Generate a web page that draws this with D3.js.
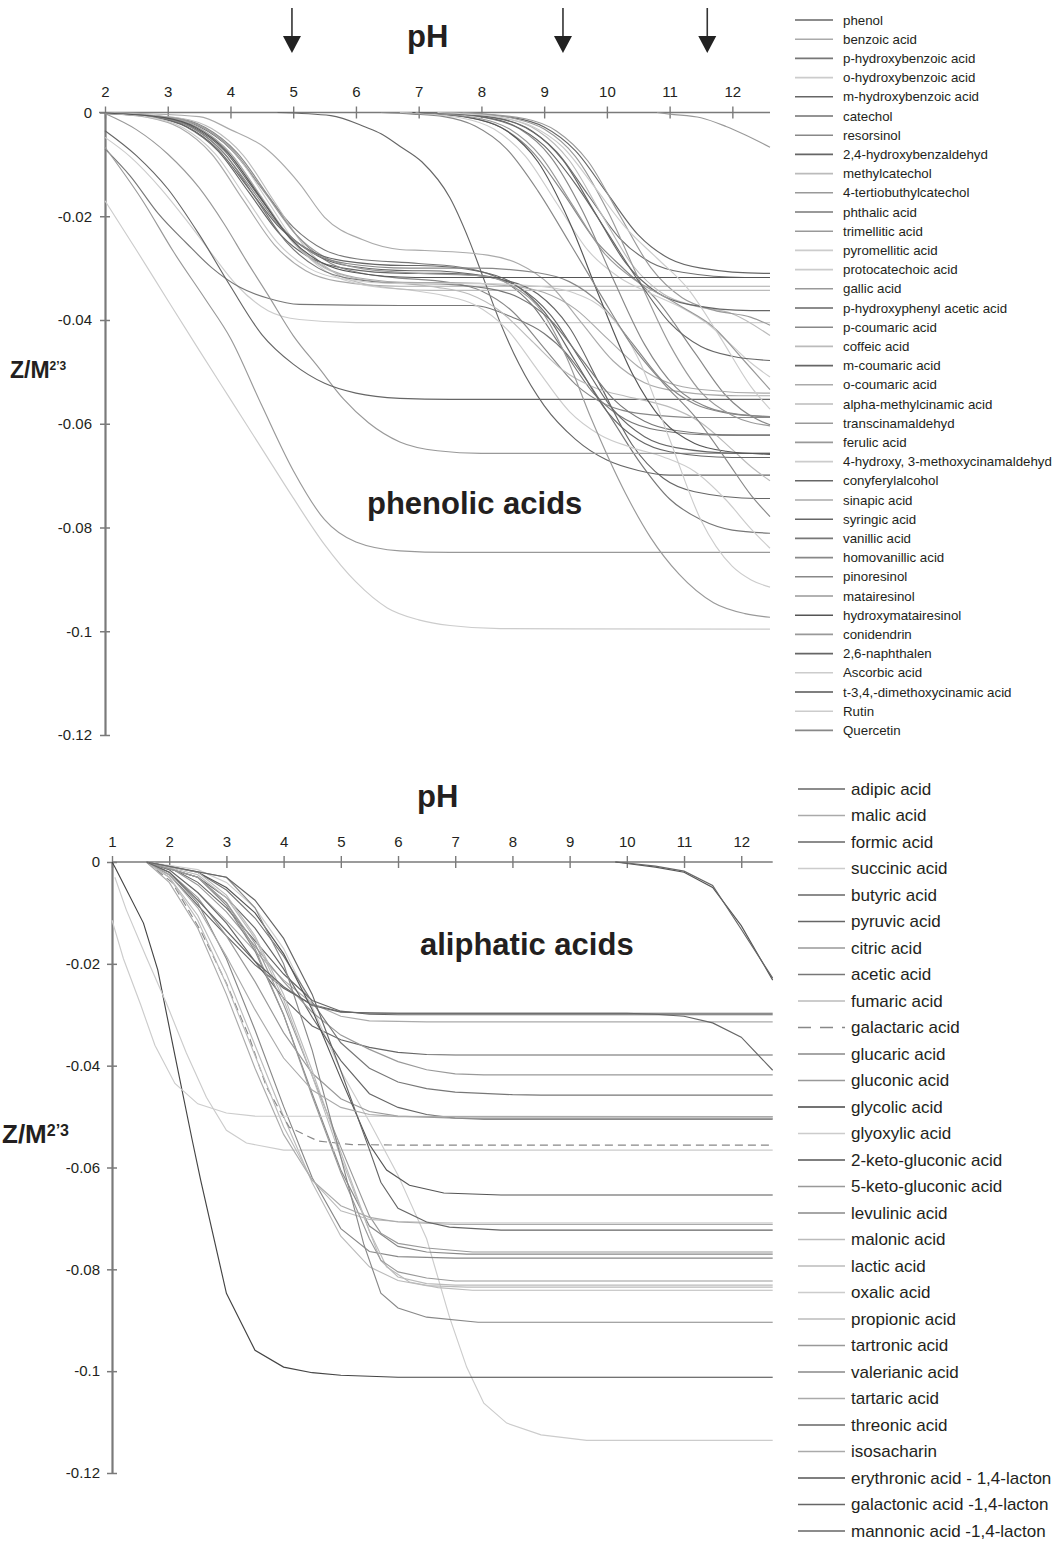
<!DOCTYPE html>
<html>
<head>
<meta charset="utf-8">
<script src="https://cdn.jsdelivr.net/npm/d3@7"></script>
<style>
  body { margin: 0; background: #fff; }
  svg text { font-family: "Liberation Sans", Arial, Helvetica, sans-serif; }
</style>
</head>
<body>
<svg id="chart" width="1062" height="1548"></svg>
<script>
// ---- data ---------------------------------------------------------------

const zTicks = [0, -0.02, -0.04, -0.06, -0.08, -0.1, -0.12];
const phTicksTop = [2, 3, 4, 5, 6, 7, 8, 9, 10, 11, 12];
const phTicksBottom = [1, 2, 3, 4, 5, 6, 7, 8, 9, 10, 11, 12];
const arrowPH = [4.98, 9.3, 11.6];

const phenolicNames = [
  "phenol", "benzoic acid", "p-hydroxybenzoic acid", "o-hydroxybenzoic acid",
  "m-hydroxybenzoic acid", "catechol", "resorsinol", "2,4-hydroxybenzaldehyd",
  "methylcatechol", "4-tertiobuthylcatechol", "phthalic acid", "trimellitic acid",
  "pyromellitic acid", "protocatechoic acid", "gallic acid", "p-hydroxyphenyl acetic acid",
  "p-coumaric acid", "coffeic acid", "m-coumaric acid", "o-coumaric acid",
  "alpha-methylcinamic acid", "transcinamaldehyd", "ferulic acid",
  "4-hydroxy, 3-methoxycinamaldehyd", "conyferylalcohol", "sinapic acid",
  "syringic acid", "vanillic acid", "homovanillic acid", "pinoresinol",
  "matairesinol", "hydroxymatairesinol", "conidendrin", "2,6-naphthalen",
  "Ascorbic acid", "t-3,4,-dimethoxycinamic acid", "Rutin", "Quercetin"
];
const phenolicGrays = [
  "#666", "#aaa", "#777", "#ccc", "#666", "#707070", "#888", "#666",
  "#bbb", "#999", "#777", "#999", "#ccc", "#ccc", "#999", "#666",
  "#888", "#bbb", "#666", "#aaa", "#bbb", "#999", "#999", "#ccc",
  "#666", "#aaa", "#666", "#777", "#888", "#888", "#999", "#555",
  "#999", "#666", "#ccc", "#555", "#ccc", "#888"
];
// [pH, Z/M^2/3]
const phenolicCurves = [
  [[7.5,0],[8.5,-.001],[9,-.0028],[9.5,-.0074],[10,-.0155],[10.5,-.0236],[11,-.0282],[11.5,-.03],[12.5,-.031],[12.6,-.031]],
  [[2,-.0002],[2.7,-.001],[3.2,-.003],[3.7,-.008],[4.2,-.0168],[4.7,-.0255],[5.2,-.0305],[5.7,-.0325],[6.7,-.0335],[12.6,-.0335]],
  [[2,-.0002],[3,-.0009],[3.5,-.0027],[4,-.007],[4.5,-.0146],[5,-.0221],[5.5,-.0265],[6,-.0282],[7,-.0291],[7.8,-.0301],[8.3,-.0321],[8.8,-.037],[9.3,-.0457],[9.8,-.0543],[10.3,-.0592],[10.8,-.0612],[11.8,-.0622],[12.6,-.0622]],
  [[2,-.0048],[2.4,-.0085],[2.9,-.0148],[3.3,-.0208],[3.7,-.0272],[4.1,-.0333],[4.6,-.0382],[5.1,-.0399],[6,-.0405],[12.6,-.0405]],
  [[2,-.0002],[2.8,-.001],[3.3,-.0028],[3.8,-.0074],[4.3,-.0155],[4.8,-.0236],[5.3,-.0282],[5.8,-.03],[6.8,-.031],[7.4,-.031],[8.4,-.0324],[8.9,-.035],[9.4,-.0414],[9.9,-.0527],[10.4,-.064],[10.9,-.0705],[11.4,-.0731],[12.4,-.0744],[12.6,-.0744]],
  [[7.2,0],[8.2,-.001],[8.7,-.0029],[9.2,-.0076],[9.7,-.0159],[10.2,-.0242],[10.7,-.0289],[11.2,-.0308],[12.2,-.0318],[12.6,-.0318]],
  [[6.8,0],[7.8,-.001],[8.3,-.0028],[8.8,-.0074],[9.3,-.0155],[9.8,-.0244],[10.3,-.0305],[10.8,-.0362],[11.4,-.0463],[11.9,-.0546],[12.4,-.0592],[12.6,-.0602]],
  [[4.75,0],[5.6,-.0006],[6.15,-.0028],[6.4,-.0041],[6.7,-.0065],[7.05,-.0095],[7.5,-.0165],[7.8,-.0245],[8.05,-.0325],[8.3,-.0405],[8.6,-.0485],[9,-.0565],[9.5,-.063],[10,-.067],[10.5,-.069],[11,-.0699],[12.6,-.0699]],
  [[7.4,0],[8.4,-.0012],[8.9,-.0035],[9.4,-.0092],[9.9,-.0193],[10.4,-.0293],[10.9,-.035],[11.4,-.0373],[12,-.0388],[12.6,-.043]],
  [[7.7,0],[8.7,-.0012],[9.2,-.0036],[9.7,-.0094],[10.2,-.0197],[10.7,-.0299],[11.2,-.0357],[11.7,-.0381],[12.3,-.0395],[12.6,-.041]],
  [[2,-.007],[2.4,-.0122],[2.85,-.0195],[3.3,-.0252],[3.7,-.0299],[4.15,-.0337],[4.6,-.0358],[5.1,-.037],[6.7,-.0372],[7.85,-.0372],[8.5,-.0395],[9,-.0426],[9.35,-.0464],[9.7,-.052],[10.1,-.0595],[10.5,-.067],[11,-.0745],[11.5,-.0785],[12,-.0805],[12.6,-.0811]],
  [[2,-.0067],[2.6,-.017],[3.1,-.027],[3.6,-.036],[4,-.0435],[4.5,-.0565],[5,-.069],[5.5,-.0785],[6,-.0828],[6.7,-.0845],[7.5,-.0848],[12.6,-.0848]],
  [[2,-.017],[2.5,-.0265],[3,-.0362],[3.5,-.0458],[4,-.0553],[4.5,-.0648],[5,-.0743],[5.5,-.0833],[6,-.0905],[6.5,-.0955],[7,-.0978],[7.5,-.0989],[8.3,-.0995],[12.6,-.0996]],
  [[2,-.0001],[3.1,-.0011],[3.6,-.0031],[4.1,-.0082],[4.6,-.0172],[5.1,-.0261],[5.6,-.0312],[6.1,-.0332],[6.9,-.0343],[7.4,-.0353],[7.9,-.0371],[8.4,-.0417],[8.9,-.0497],[9.4,-.0576],[9.9,-.0622],[10.4,-.0646],[10.9,-.0664],[11.4,-.0692],[11.9,-.0747],[12.3,-.0803],[12.6,-.084]],
  [[2,-.0002],[2.5,-.0033],[3,-.008],[3.5,-.0145],[3.9,-.0215],[4.25,-.0285],[4.6,-.0352],[5,-.043],[5.4,-.0491],[5.8,-.0552],[6.2,-.0598],[6.7,-.0635],[7.3,-.0652],[8,-.0657],[12.6,-.0657]],
  [[2,-.0035],[2.5,-.0083],[3,-.0147],[3.5,-.0235],[4,-.0335],[4.5,-.0428],[5,-.0485],[5.5,-.0522],[6,-.0541],[6.7,-.0551],[7.5,-.0553],[12.6,-.0553]],
  [[2,-.0001],[3.1,-.001],[3.6,-.0029],[4.1,-.0077],[4.6,-.016],[5.1,-.0243],[5.6,-.0291],[6.1,-.031],[6.5,-.0317],[7.5,-.0328],[8,-.0344],[8.5,-.0384],[9,-.0454],[9.5,-.0524],[10,-.0564],[10.5,-.058],[11.5,-.0588],[12.6,-.0588]],
  [[2,-.0001],[3,-.001],[3.5,-.003],[4,-.0079],[4.5,-.0165],[5,-.0251],[5.5,-.03],[6,-.032],[6.8,-.033],[7.3,-.0337],[7.8,-.035],[8.3,-.0383],[8.8,-.044],[9.3,-.0497],[9.8,-.053],[10.3,-.0547],[10.6,-.0555],[11,-.0568],[11.5,-.0598],[12,-.065],[12.3,-.0683],[12.6,-.071]],
  [[2,-.0001],[2.9,-.001],[3.4,-.0028],[3.9,-.0073],[4.4,-.0153],[4.9,-.0232],[5.4,-.0277],[5.9,-.0296],[6.9,-.0305],[7.1,-.0305],[8.1,-.0316],[8.6,-.0337],[9.1,-.039],[9.6,-.0481],[10.1,-.0573],[10.6,-.0625],[11.1,-.0646],[12.1,-.0657],[12.6,-.0657]],
  [[2,-.0001],[3,-.001],[3.5,-.003],[4,-.0079],[4.5,-.0164],[5,-.0249],[5.5,-.0298],[6,-.0318],[7,-.0328],[7.5,-.0328],[8.5,-.0335],[9,-.0347],[9.5,-.0379],[10,-.0435],[10.5,-.049],[11,-.0522],[11.5,-.0534],[12.5,-.0541],[12.6,-.0541]],
  [[2,-.0001],[3.2,-.0011],[3.7,-.0031],[4.2,-.0082],[4.7,-.0172],[5.2,-.0261],[5.7,-.0312],[6.2,-.0332],[7.2,-.0343],[12.6,-.0343]],
  [[10.8,0],[11,-.0003],[11.5,-.001],[11.9,-.0027],[12.2,-.0043],[12.6,-.0067]],
  [[2,-.0001],[3.05,-.001],[3.55,-.0028],[4.05,-.0074],[4.55,-.0155],[5.05,-.0236],[5.55,-.0282],[6.05,-.03],[7,-.031],[8,-.0315],[8.5,-.0335],[9,-.039],[9.35,-.047],[9.75,-.059],[10.3,-.0735],[10.7,-.082],[11.15,-.089],[11.7,-.0945],[12.2,-.0966],[12.6,-.0973]],
  [[6.7,0],[7.7,-.0011],[8.2,-.0032],[8.7,-.0084],[9.2,-.0175],[9.7,-.0266],[10.2,-.0318],[10.7,-.0349],[11.2,-.0377],[11.6,-.0407],[12,-.045],[12.3,-.0483],[12.6,-.051]],
  [[7.3,0],[8.3,-.0012],[8.8,-.0035],[9.3,-.0092],[9.8,-.0191],[10.3,-.029],[10.8,-.0347],[11.3,-.037],[12.3,-.0382],[12.6,-.0382]],
  [[2,0],[3.5,-.0008],[4,-.0033],[4.55,-.0068],[5.1,-.0137],[5.5,-.0202],[6.1,-.0245],[6.7,-.0264],[7.1,-.0266],[8.1,-.0275],[8.6,-.0292],[9.1,-.0333],[9.6,-.0406],[10.1,-.0479],[10.6,-.0521],[11.1,-.0537],[12.1,-.0546],[12.6,-.0546]],
  [[2,-.0002],[2.8,-.0009],[3.3,-.0027],[3.8,-.0071],[4.3,-.0148],[4.8,-.0224],[5.3,-.0268],[5.8,-.0286],[6.8,-.0295],[7,-.0295],[8,-.0307],[8.5,-.0329],[9,-.0384],[9.5,-.048],[10,-.0576],[10.5,-.0631],[11,-.0654],[12,-.0665],[12.6,-.0665]],
  [[2,-.0001],[2.9,-.001],[3.4,-.003],[3.9,-.0079],[4.4,-.0165],[4.9,-.0251],[5.4,-.03],[5.9,-.032],[6.9,-.033],[7.1,-.033],[8.1,-.0339],[8.6,-.0357],[9.1,-.04],[9.6,-.0476],[10.1,-.0552],[10.6,-.0595],[11.1,-.0613],[12.1,-.0622],[12.6,-.0622]],
  [[2,-.0002],[2.85,-.0009],[3.35,-.0027],[3.85,-.0072],[4.35,-.015],[4.85,-.0228],[5.35,-.0273],[5.85,-.0291],[6.85,-.03],[7.9,-.03],[8.9,-.0309],[9.4,-.0326],[9.9,-.0369],[10.4,-.0444],[10.9,-.0519],[11.4,-.0562],[11.9,-.0579],[12.6,-.0587]],
  [[7.1,0],[7.6,-.0003],[8.1,-.0011],[8.6,-.0031],[9.1,-.0085],[9.6,-.0187],[10.1,-.0321],[10.6,-.0447],[11.1,-.053],[11.6,-.0568],[12.1,-.0582],[12.6,-.0586]],
  [[7.5,0],[8,-.0003],[8.5,-.0011],[9,-.0032],[9.5,-.0085],[10,-.0187],[10.5,-.0319],[11,-.0447],[11.5,-.0539],[12,-.0584],[12.6,-.0604]],
  [[6.9,0],[7.4,-.0003],[7.9,-.0012],[8.4,-.0035],[8.9,-.0095],[9.4,-.021],[9.9,-.0361],[10.4,-.0502],[10.9,-.0595],[11.4,-.0638],[11.9,-.0653],[12.6,-.0659]],
  [[6.95,0],[7.95,-.0011],[8.45,-.0032],[8.95,-.0085],[9.45,-.0178],[9.95,-.027],[10.45,-.0323],[10.95,-.0357],[11.2,-.0375],[11.7,-.0414],[12.2,-.048],[12.6,-.0534]],
  [[7,0],[7.5,-.0002],[8,-.0008],[8.5,-.0024],[9,-.0064],[9.5,-.0138],[10,-.023],[10.5,-.0324],[11,-.0405],[11.5,-.0451],[12,-.047],[12.6,-.0478]],
  [[2,-.0002],[2.75,-.001],[3.25,-.003],[3.75,-.0079],[4.25,-.0165],[4.75,-.0251],[5.25,-.03],[5.75,-.032],[6.75,-.033],[8,-.033],[9,-.0336],[9.5,-.0349],[10,-.0385],[10.5,-.0474],[11,-.063],[11.5,-.0786],[12,-.0875],[12.3,-.0901],[12.6,-.0915]],
  [[2,-.0001],[2.95,-.001],[3.45,-.0029],[3.95,-.0076],[4.45,-.0159],[4.95,-.0242],[5.45,-.0289],[5.95,-.0308],[6.95,-.0318],[12.6,-.0318]],
  [[7.3,0],[7.8,-.0003],[8.3,-.0009],[8.8,-.0026],[9.3,-.0067],[9.8,-.0143],[10.3,-.0222],[10.8,-.0281],[11.3,-.0341],[11.8,-.0432],[12.3,-.0529],[12.6,-.0572]],
  [[6.4,0],[6.9,-.0003],[7.4,-.0008],[7.9,-.0026],[8.4,-.007],[8.9,-.0151],[9.4,-.025],[9.9,-.0351],[10.4,-.0449],[10.9,-.0522],[11.4,-.0586],[11.9,-.0669],[12.3,-.0738],[12.6,-.0779]]
];

const aliphaticNames = [
  "adipic acid", "malic acid", "formic acid", "succinic acid", "butyric acid",
  "pyruvic acid", "citric acid", "acetic acid", "fumaric acid", "galactaric acid",
  "glucaric acid", "gluconic acid", "glycolic acid", "glyoxylic acid",
  "2-keto-gluconic acid", "5-keto-gluconic acid", "levulinic acid", "malonic acid",
  "lactic acid", "oxalic acid", "propionic acid", "tartronic acid", "valerianic acid",
  "tartaric acid", "threonic acid", "isosacharin", "erythronic acid - 1,4-lacton",
  "galactonic acid -1,4-lacton", "mannonic acid -1,4-lacton"
];
const aliphaticGrays = [
  "#666", "#aaa", "#666", "#ccc", "#666", "#666", "#999", "#777", "#bbb", "#888",
  "#888", "#999", "#444", "#ccc", "#555", "#999", "#888", "#bbb", "#bbb", "#ccc",
  "#bbb", "#999", "#888", "#aaa", "#666", "#aaa", "#555", "#666", "#666"
];
const aliphaticDashed = ["galactaric acid"];
const aliphaticCurves = [
  [[1.6,0],[2,-.0025],[2.5,-.0085],[3,-.0145],[3.5,-.0202],[4,-.0248],[4.5,-.028],[5,-.0294],[5.5,-.0297],[12.55,-.0297]],
  [[1.6,0],[2,-.0015],[2.5,-.006],[3,-.0115],[3.5,-.0175],[4,-.0232],[4.5,-.0278],[5,-.0303],[5.5,-.0312],[6.5,-.0314],[12.55,-.0314]],
  [[1.6,0],[2,-.0015],[2.5,-.006],[3,-.012],[3.5,-.0195],[4,-.0268],[4.5,-.0322],[5,-.0349],[5.5,-.0364],[6,-.0374],[6.5,-.0378],[7,-.0379],[12.55,-.0379]],
  [[1.6,0],[2.5,-.0015],[3,-.004],[3.5,-.009],[4,-.017],[4.5,-.0285],[5,-.041],[5.5,-.051],[6,-.0615],[6.5,-.074],[6.9,-.0894],[7.2,-.0992],[7.5,-.1063],[7.9,-.1102],[8.5,-.1125],[9.3,-.1136],[12.55,-.1136]],
  [[1.6,0],[2,-.001],[2.5,-.004],[3,-.009],[3.5,-.0155],[4,-.022],[4.5,-.0272],[5,-.0293],[5.5,-.0299],[6,-.03],[12.55,-.03]],
  [[1.6,0],[2.5,-.003],[3,-.007],[3.5,-.013],[4,-.021],[4.5,-.0305],[5,-.039],[5.5,-.0455],[6,-.0482],[6.5,-.0496],[7,-.0503],[7.5,-.0505],[12.55,-.0505]],
  [[1.6,0],[2,-.001],[2.5,-.0045],[3,-.0098],[3.5,-.0165],[4,-.0235],[4.5,-.0295],[5,-.034],[5.5,-.0368],[6,-.0392],[6.5,-.0408],[7,-.0416],[7.5,-.0418],[12.55,-.0418]],
  [[1.6,0],[2.5,-.002],[3,-.0055],[3.5,-.011],[4,-.0185],[4.5,-.0275],[5,-.0355],[5.5,-.0405],[6,-.0432],[6.5,-.0445],[7,-.0452],[8,-.0457],[8.5,-.0458],[12.55,-.0458]],
  [[1.6,0],[2,-.003],[2.5,-.0105],[3,-.022],[3.5,-.036],[4,-.05],[4.5,-.063],[5,-.0735],[5.5,-.0795],[6,-.0822],[6.5,-.0832],[7.2,-.0835],[12.55,-.0835]],
  [[1.6,0],[2.05,-.004],[2.55,-.0135],[3,-.0238],[3.4,-.0344],[3.7,-.0442],[4.1,-.0521],[4.6,-.0548],[5.2,-.0555],[6,-.0556],[12.55,-.0556]],
  [[1.6,0],[2.5,-.003],[3,-.0085],[3.5,-.0175],[4,-.03],[4.5,-.0455],[5,-.0605],[5.5,-.0715],[6,-.0755],[6.5,-.0766],[7.2,-.077],[12.55,-.077]],
  [[1.6,0],[2,-.002],[2.5,-.007],[3,-.0145],[3.5,-.0235],[4,-.0335],[4.5,-.0415],[5,-.0465],[5.5,-.049],[6,-.0499],[7,-.0503],[12.55,-.0503]],
  [[1,0],[1.05,-.001],[1.55,-.012],[1.8,-.0212],[2.1,-.038],[2.4,-.0545],[2.55,-.0625],[3,-.0847],[3.5,-.0959],[4,-.0992],[4.5,-.1003],[5,-.1008],[6,-.1012],[12.55,-.1012]],
  [[1.05,-.003],[1.25,-.0094],[1.6,-.0187],[1.95,-.0277],[2.3,-.0375],[2.65,-.0462],[3,-.0527],[3.35,-.0552],[4,-.0566],[12.55,-.0566]],
  [[1.6,0],[2.5,-.002],[3,-.005],[3.5,-.01],[4,-.018],[4.5,-.029],[5,-.0425],[5.5,-.0555],[5.8,-.0605],[6.2,-.0635],[6.8,-.065],[7.8,-.0654],[12.55,-.0654]],
  [[1.6,0],[2.5,-.003],[3,-.008],[3.5,-.016],[4,-.028],[4.5,-.042],[5,-.056],[5.5,-.0695],[5.7,-.0729],[6,-.0749],[6.5,-.0758],[7.3,-.0766],[12.55,-.0766]],
  [[1.6,0],[2,-.002],[2.5,-.008],[3,-.019],[3.5,-.033],[4,-.048],[4.5,-.062],[5,-.072],[5.5,-.0765],[6,-.0775],[7,-.0778],[12.55,-.0778]],
  [[1.6,0],[2,-.003],[2.5,-.0115],[3,-.024],[3.5,-.038],[4,-.052],[4.5,-.0625],[5,-.0685],[5.5,-.0702],[6,-.0706],[7,-.0709],[12.55,-.0709]],
  [[1.6,0],[2.5,-.0025],[3,-.007],[3.5,-.015],[4,-.027],[4.5,-.042],[5,-.058],[5.5,-.0725],[5.7,-.0783],[6,-.0815],[6.5,-.0828],[7,-.0831],[12.55,-.0831]],
  [[1,-.0114],[1.2,-.019],[1.5,-.028],[1.75,-.036],[2.1,-.0435],[2.5,-.0475],[3,-.0493],[3.5,-.0499],[12.55,-.05]],
  [[1.6,0],[2.5,-.002],[3,-.0065],[3.5,-.0145],[4,-.026],[4.5,-.041],[5,-.057],[5.5,-.0725],[5.8,-.0795],[6.2,-.0825],[6.7,-.0836],[7.3,-.0841],[12.55,-.0841]],
  [[1.6,0],[2.5,-.003],[3,-.008],[3.5,-.017],[4,-.03],[4.5,-.046],[5,-.061],[5.5,-.074],[5.7,-.0782],[6,-.0805],[6.5,-.0817],[7,-.0823],[12.55,-.0823]],
  [[1.6,0],[3,-.003],[3.5,-.009],[4,-.02],[4.5,-.037],[5,-.058],[5.4,-.075],[5.7,-.0847],[6,-.0876],[6.5,-.0894],[7.4,-.0904],[12.55,-.0904]],
  [[1.6,0],[2,-.004],[2.5,-.013],[3,-.026],[3.5,-.0405],[4,-.0535],[4.5,-.0625],[5,-.0675],[5.5,-.0698],[6,-.0707],[7,-.0712],[12.55,-.0712]],
  [[1.6,0],[3,-.003],[3.5,-.0075],[4,-.015],[4.5,-.026],[5,-.041],[5.5,-.0565],[5.7,-.0629],[6,-.068],[6.5,-.0707],[6.9,-.0717],[7.8,-.0723],[12.55,-.0723]],
  [[1.6,0],[2,-.0025],[2.5,-.009],[3,-.0185],[3.5,-.029],[4,-.0385],[4.5,-.0448],[5,-.0482],[5.5,-.0496],[6,-.05],[12.55,-.05]],
  [[9.8,0],[10,-.0003],[10.5,-.001],[11,-.002],[11.5,-.005],[12,-.0125],[12.55,-.0232]],
  [[9.8,0],[10,-.0002],[10.5,-.0008],[11,-.0018],[11.5,-.0046],[12,-.0132],[12.55,-.0228]],
  [[1.6,0],[2,-.002],[2.5,-.0075],[3,-.0135],[3.5,-.0195],[4,-.0245],[4.5,-.0282],[5,-.0295],[6,-.0297],[10,-.0297],[10.5,-.0299],[11,-.0303],[11.5,-.0316],[12,-.0344],[12.55,-.0409]]
];

// ---- drawing ------------------------------------------------------------

const svg = d3.select("#chart");
const INK = "#231f20";
const AXIS = "#7a7a7a";

function zFormat(d) {
  return d === 0 ? "0" : String(+d.toFixed(2)); // keeps the plain hyphen of the original
}

function drawPanel(p) {
  const x = d3.scaleLinear().domain(p.xDomain).range(p.xRange);
  const y = d3.scaleLinear().domain([0, -0.12]).range(p.yRange);
  const g = svg.append("g");

  // y axis
  const gy = g.append("g")
      .attr("transform", "translate(" + x(p.xDomain[0]) + ",0)")
      .call(d3.axisLeft(y).tickValues(zTicks).tickFormat(zFormat)
        .tickSize(5).tickPadding(p.yPad).tickSizeOuter(0));
  gy.select(".domain").attr("stroke", AXIS).attr("stroke-width", 2.2);
  gy.selectAll(".tick line").attr("x1", 5).attr("x2", -5).attr("stroke", AXIS).attr("stroke-width", 1.5);

  // x axis (on top, at Z = 0); the top one pokes a little left of the y axis
  const gx = g.append("g")
      .attr("transform", "translate(0," + y(0) + ")")
      .call(d3.axisTop(x).tickValues(p.xTicks).tickFormat(d3.format("d"))
        .tickSize(6).tickPadding(9.5).tickSizeOuter(0));
  gx.select(".domain").attr("stroke", AXIS).attr("stroke-width", 1.4)
    .attr("d", "M" + (p.xRange[0] - p.axisLead) + ",0H" + p.xRange[1]);
  gx.selectAll(".tick line").attr("y1", -6).attr("y2", 6).attr("stroke", AXIS).attr("stroke-width", 1.4);

  [gx, gy].forEach(a => a.attr("font-family", null).attr("font-size", null)
    .selectAll("text").attr("fill", INK).style("font-size", "15px"));

  // curves
  const line = d3.line().x(d => x(d[0])).y(d => y(d[1])).curve(p.curve);
  g.append("g").selectAll("path")
    .data(p.curves)
    .join("path")
      .attr("d", d => line(d))
      .attr("fill", "none")
      .attr("stroke", (d, i) => p.grays[i])
      .attr("stroke-width", 1.15)
      .attr("stroke-dasharray", (d, i) => p.dashed.includes(p.names[i]) ? "8,5" : null);

  // titles
  g.append("text").attr("x", p.phPos[0]).attr("y", p.phPos[1])
    .attr("font-weight", "bold").attr("font-size", 31).attr("fill", INK).text("pH");
  g.append("text").attr("x", p.labelPos[0]).attr("y", p.labelPos[1])
    .attr("font-weight", "bold").attr("font-size", 31).attr("fill", INK).text(p.label);

  const zl = g.append("text").attr("x", p.zPos[0]).attr("y", p.zPos[1])
    .attr("font-weight", "bold").attr("fill", INK);
  zl.append("tspan").attr("font-size", p.zSize[0]).text("Z/M");
  zl.append("tspan").attr("font-size", p.zSize[1]).attr("dy", p.zSize[2]).text("2\u20193");

  // legend
  const lg = g.append("g").selectAll("g")
    .data(p.names)
    .join("g")
      .attr("transform", (d, i) => "translate(0," + (p.legend.y0 + i * p.legend.dy) + ")");
  lg.append("line")
    .attr("x1", p.legend.x1).attr("x2", p.legend.x2)
    .attr("stroke", (d, i) => p.grays[i]).attr("stroke-width", 1.6)
    .attr("stroke-dasharray", d => p.dashed.includes(d) ? "13,9" : null);
  lg.append("text")
    .attr("x", p.legend.tx).attr("dy", "0.35em")
    .attr("font-size", p.legend.size).attr("fill", INK)
    .text(d => d);

  return x;
}

const xTop = drawPanel({
  xDomain: [2, 12.6], xRange: [105, 770], yRange: [112.5, 735],
  xTicks: phTicksTop, yPad: 8, axisLead: 6,
  curves: phenolicCurves, names: phenolicNames, grays: phenolicGrays, dashed: [],
  curve: d3.curveMonotoneX,
  phPos: [407, 47], label: "phenolic acids", labelPos: [367, 514],
  zPos: [10, 378], zSize: [23, 12, -8],
  legend: { x1: 795, x2: 833, tx: 843, y0: 20, dy: 19.2, size: 13.3 }
});

drawPanel({
  xDomain: [1, 12.55], xRange: [112, 772.7], yRange: [862, 1473],
  xTicks: phTicksBottom, yPad: 7, axisLead: 0,
  curves: aliphaticCurves, names: aliphaticNames, grays: aliphaticGrays, dashed: aliphaticDashed,
  curve: d3.curveLinear,
  phPos: [417, 807], label: "aliphatic acids", labelPos: [420, 955],
  zPos: [2, 1143], zSize: [26, 16, -7],
  legend: { x1: 798, x2: 845, tx: 851, y0: 789, dy: 26.5, size: 17 }
});

// pKa arrows above the phenolic panel
const arrows = svg.append("g").selectAll("g").data(arrowPH).join("g")
  .attr("transform", d => "translate(" + xTop(d) + ",0)");
arrows.append("line").attr("y1", 8).attr("y2", 38).attr("stroke", "#333").attr("stroke-width", 1.6);
arrows.append("path").attr("d", "M-9,36L9,36L0,53Z").attr("fill", "#222");
</script>
</body>
</html>
